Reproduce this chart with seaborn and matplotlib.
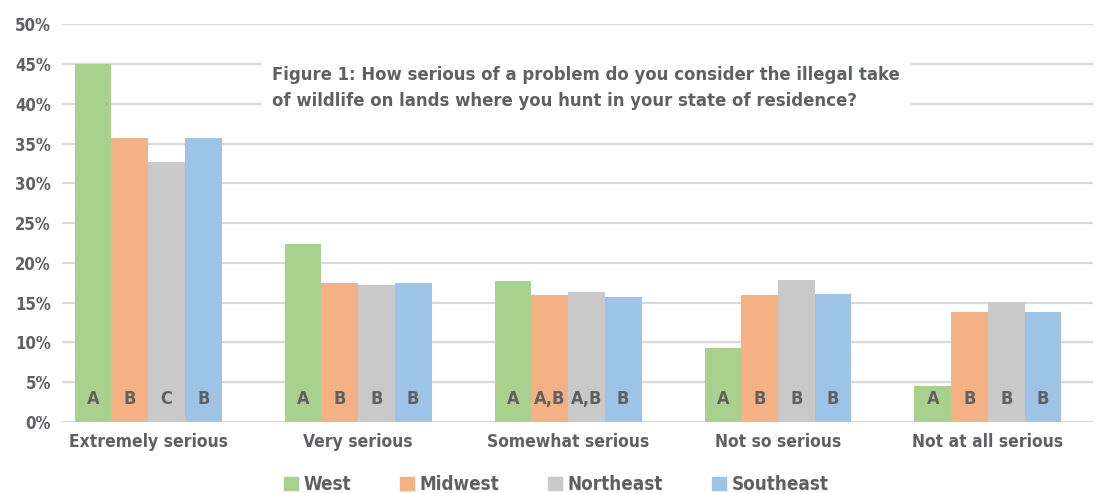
import pandas as pd
import matplotlib.pyplot as plt
import seaborn as sns
from matplotlib.ticker import PercentFormatter

# Categorias e valores (%)
categorias = ["Extremely serious", "Very serious", "Somewhat serious",
              "Not so serious", "Not at all serious"]
regioes = ["West", "Midwest", "Northeast", "Southeast"]

west = [45.0, 22.4, 17.7, 9.3, 4.5]
midwest = [35.7, 17.5, 16.0, 16.0, 13.8]
northeast = [32.7, 17.2, 16.3, 17.8, 15.1]
southeast = [35.7, 17.5, 15.7, 16.1, 13.8]

# Letras de significância dentro das barras
letras_west = ["A", "A", "A", "A", "A"]
letras_midwest = ["B", "B", "A,B", "B", "B"]
letras_northeast = ["C", "B", "A,B", "B", "B"]
letras_southeast = ["B", "B", "B", "B", "B"]

cores = ["#a9d18e", "#f4b183", "#c9c9c9", "#9dc3e6"]
cinza_texto = "#5f6062"

titulo = ("Figure 1: How serious of a problem do you consider the illegal take\n"
          "of wildlife on lands where you hunt in your state of residence?")

valores = [west, midwest, northeast, southeast]
letras = [letras_west, letras_midwest, letras_northeast, letras_southeast]

linhas = []
for regiao, vals in zip(regioes, valores):
    for cat, v in zip(categorias, vals):
        linhas.append({"categoria": cat, "regiao": regiao, "pct": v})
df = pd.DataFrame(linhas)

sns.set_style("white")
plt.rcParams["font.family"] = ["DejaVu Sans"]
plt.rcParams["font.stretch"] = "condensed"
plt.rcParams["font.weight"] = "bold"

fig = plt.figure(figsize=(11.01, 4.93), dpi=100)
ax = fig.add_axes([0.0563, 0.144, 0.9364, 0.807])

sns.barplot(data=df, x="categoria", y="pct", hue="regiao", order=categorias,
            hue_order=regioes, palette=cores, width=0.70, saturation=1,
            linewidth=0, ax=ax, zorder=2)

ax.set_ylim(0, 50)
ax.set_xlim(-0.41, 4.5)
ax.set_yticks(range(0, 51, 5))
ax.yaxis.set_major_formatter(PercentFormatter(decimals=0))
ax.grid(axis="y", color="#d9d9d9", linewidth=1.6, zorder=0)
ax.set_axisbelow(True)
for s in ax.spines.values():
    s.set_visible(False)
ax.set_xlabel("")
ax.set_ylabel("")
ax.tick_params(axis="y", length=0, pad=8, labelsize=12, labelcolor=cinza_texto)
ax.tick_params(axis="x", length=0, pad=8, labelsize=12.5, labelcolor=cinza_texto)
for t in ax.get_xticklabels() + ax.get_yticklabels():
    t.set_fontweight("bold")

# Letras nas barras
for cont, lets in zip(ax.containers, letras):
    for barra, letra in zip(cont, lets):
        ax.text(barra.get_x() + barra.get_width() / 2, 2.9, letra,
                ha="center", va="center", fontsize=13, fontweight="bold",
                color=cinza_texto, zorder=3)

# Título dentro do gráfico, com fundo branco
fig.text(0.247, 0.822, titulo, ha="left", va="center", fontsize=13.2,
         fontweight="bold", color=cinza_texto, linespacing=1.6,
         bbox=dict(facecolor="white", edgecolor="none", pad=8))

ax.legend_.remove()
handles = [plt.Rectangle((0, 0), 1, 1, color=c) for c in cores]
fig.legend(handles, regioes, loc="center", bbox_to_anchor=(0.505, 0.017),
           ncol=4, frameon=False, handlelength=0.75, handleheight=0.75,
           handletextpad=0.3, columnspacing=2.6,
           prop={"size": 13.5, "weight": "bold"}, labelcolor=cinza_texto)

fig.savefig("out.png", dpi=100)
plt.close(fig)
